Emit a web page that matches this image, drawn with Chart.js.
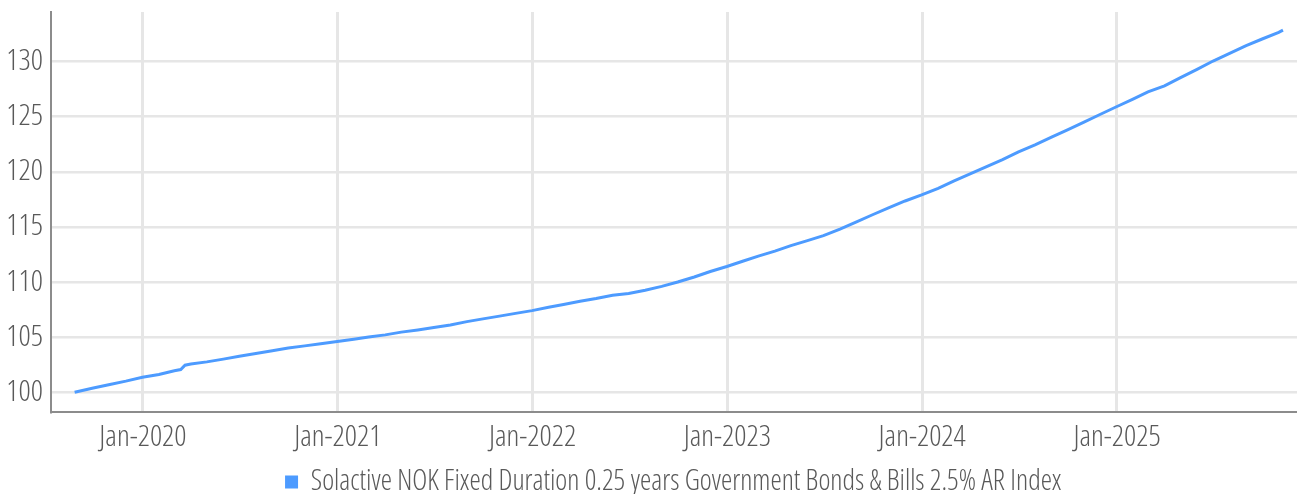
<!DOCTYPE html>
<html>
<head>
    <style>
        html, body {
            margin: 0;
            padding: 0;
            background: #ffffff;
        }
        .chart {
            width: 1297px;
            height: 494px;
        }
    </style>
</head>
<body>
    <div class="chart">
        <canvas id="indexChart"></canvas>
    </div>

    <script src="https://cdn.jsdelivr.net/npm/chart.js@4.4.1/dist/chart.umd.min.js"></script>
    <script>
        const seriesName = 'Solactive NOK Fixed Duration 0.25 years Government Bonds & Bills 2.5% AR Index';

        const dates = [
            '2019-08-26', '2019-09-30', '2019-10-31', '2019-11-30', '2019-12-31',
            '2020-01-31', '2020-02-29', '2020-03-12', '2020-03-20', '2020-03-31', '2020-04-30',
            '2020-05-31', '2020-06-30', '2020-07-31', '2020-08-31', '2020-09-30', '2020-10-31',
            '2020-11-30', '2020-12-31',
            '2021-01-31', '2021-02-28', '2021-03-31', '2021-04-30', '2021-05-31', '2021-06-30',
            '2021-07-31', '2021-08-31', '2021-09-30', '2021-10-31', '2021-11-30', '2021-12-31',
            '2022-01-31', '2022-02-28', '2022-03-31', '2022-04-30', '2022-05-31', '2022-06-30',
            '2022-07-31', '2022-08-31', '2022-09-30', '2022-10-31', '2022-11-30', '2022-12-31',
            '2023-01-31', '2023-02-28', '2023-03-31', '2023-04-30', '2023-05-31', '2023-06-30',
            '2023-07-31', '2023-08-31', '2023-09-30', '2023-10-31', '2023-11-30', '2023-12-31',
            '2024-01-31', '2024-02-29', '2024-03-31', '2024-04-30', '2024-05-31', '2024-06-30',
            '2024-07-31', '2024-08-31', '2024-09-30', '2024-10-31', '2024-11-30', '2024-12-31',
            '2025-01-31', '2025-02-28', '2025-03-31', '2025-04-30', '2025-05-31', '2025-06-30',
            '2025-07-31', '2025-08-31', '2025-09-30', '2025-10-31', '2025-11-08'
        ];

        const indexValues = [
            100.0, 100.37, 100.7, 101.0, 101.35,
            101.6, 101.95, 102.05, 102.45, 102.55, 102.75,
            103.0, 103.25, 103.5, 103.75, 104.0, 104.2,
            104.4, 104.6,
            104.8, 105.0, 105.2, 105.45, 105.65, 105.87,
            106.1, 106.4, 106.65, 106.9, 107.15, 107.4,
            107.7, 107.95, 108.25, 108.5, 108.8, 108.95,
            109.25, 109.6, 110.0, 110.45, 110.95, 111.4,
            111.9, 112.35, 112.8, 113.3, 113.75, 114.2,
            114.8, 115.45, 116.1, 116.75, 117.35, 117.9,
            118.5, 119.15, 119.8, 120.45, 121.1, 121.8,
            122.45, 123.15, 123.8, 124.5, 125.2, 125.9,
            126.6, 127.25, 127.8, 128.55, 129.3, 130.05,
            130.75, 131.45, 132.05, 132.65, 132.85
        ];

        const xTickYears = [2020, 2021, 2022, 2023, 2024, 2025];
        const yTickValues = [100, 105, 110, 115, 120, 125, 130];

        // date string -> fractional year, so a plain linear axis can be used
        function toYear(s) {
            const d = new Date(s + 'T00:00:00Z');
            const y = d.getUTCFullYear();
            const start = Date.UTC(y, 0, 1);
            const end = Date.UTC(y + 1, 0, 1);
            return y + (d.getTime() - start) / (end - start);
        }

        const points = dates.map((d, i) => ({ x: toYear(d), y: indexValues[i] }));

        // the original uses a narrow light face; use condensed Open Sans if the
        // installed font has a width axis, otherwise DejaVu Sans Condensed
        const probe = document.createElement('canvas').getContext('2d');
        function textWidth(font, text) {
            probe.font = font;
            return probe.measureText(text).width;
        }
        const narrowOk = textWidth("300 condensed 20px 'Open Sans'", 'Jan-2020') <
            0.9 * textWidth("300 20px 'Open Sans'", 'Jan-2020');

        let fontFamily, fontWeight;
        if (narrowOk) {
            fontFamily = "'Open Sans'";
            fontWeight = '300 condensed';
        } else {
            fontFamily = "'DejaVu Sans Condensed', 'DejaVu Sans', sans-serif";
            fontWeight = 'normal';
        }
        // size the text so it spans about what the reference does
        const tickSize = Math.round(20 * 87 / textWidth(fontWeight + ' 20px ' + fontFamily, 'Jan-2020') * 2) / 2;
        const legendSize = Math.round(20 * 757 / textWidth(fontWeight + ' 20px ' + fontFamily, seriesName) * 2) / 2;

        // plot area runs from y=12 to y=412, legend row centred at y=482
        const legendPad = 4;
        const legendTop = 482 - legendPad - legendSize / 2;
        const legendBottom = legendTop + legendSize + legendPad + 10;

        const textColor = '#595959';
        const gridColor = '#e6e6e6';
        const axisColor = '#8c8c8c';

        const ctx = document.getElementById('indexChart').getContext('2d');

        new Chart(ctx, {
            type: 'line',
            data: {
                datasets: [{
                    label: seriesName,
                    data: points,
                    borderColor: '#4d9bff',
                    backgroundColor: '#4d9bff',
                    borderWidth: 3,
                    pointRadius: 0,
                    fill: false,
                    tension: 0
                }]
            },
            options: {
                responsive: true,
                maintainAspectRatio: false,
                animation: false,
                layout: {
                    padding: { top: 12, right: 0, bottom: 494 - legendBottom, left: 0 }
                },
                plugins: {
                    tooltip: { enabled: false },
                    legend: {
                        position: 'bottom',
                        fullSize: false,
                        labels: {
                            boxWidth: 10,
                            boxHeight: 10,
                            padding: legendPad,
                            color: textColor,
                            font: { family: fontFamily, weight: fontWeight, size: legendSize }
                        }
                    }
                },
                scales: {
                    x: {
                        type: 'linear',
                        min: 2019.528,
                        max: 2025.924,
                        afterBuildTicks: scale => {
                            scale.ticks = xTickYears.map(v => ({ value: v }));
                        },
                        afterFit: scale => {
                            scale.height = legendTop - 412;
                            scale.paddingLeft = 0;
                            scale.paddingRight = 0;
                        },
                        ticks: {
                            color: textColor,
                            padding: 7,
                            maxRotation: 0,
                            font: { family: fontFamily, weight: fontWeight, size: tickSize },
                            callback: v => 'Jan-' + v
                        },
                        grid: {
                            color: gridColor,
                            lineWidth: 3,
                            drawTicks: false
                        },
                        border: {
                            color: axisColor,
                            width: 2
                        }
                    },
                    y: {
                        min: 98.2,
                        max: 134.5,
                        afterBuildTicks: scale => {
                            scale.ticks = yTickValues.map(v => ({ value: v }));
                        },
                        afterFit: scale => {
                            scale.width = 51;
                            scale.paddingTop = 0;
                            scale.paddingBottom = 0;
                        },
                        ticks: {
                            color: textColor,
                            padding: 8,
                            font: { family: fontFamily, weight: fontWeight, size: tickSize }
                        },
                        grid: {
                            color: gridColor,
                            lineWidth: 2.5,
                            drawTicks: false
                        },
                        border: {
                            color: axisColor,
                            width: 2
                        }
                    }
                }
            }
        });
    </script>
</body>
</html>
